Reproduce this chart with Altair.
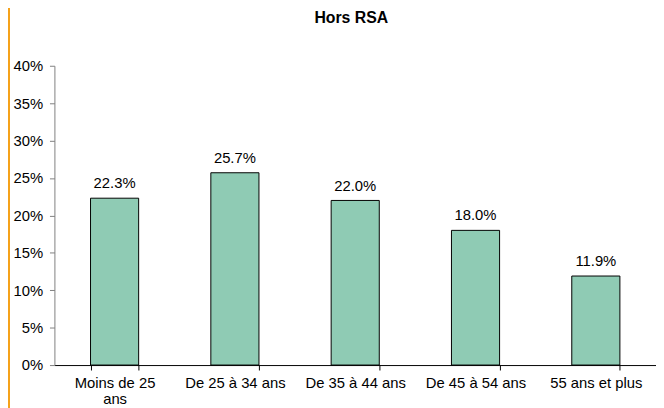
import altair as alt
import pandas as pd

categories = ["Moins de 25 ans", "De 25 à 34 ans", "De 35 à 44 ans", "De 45 à 54 ans", "55 ans et plus"]
values = [22.3, 25.7, 22.0, 18.0, 11.9]
title_text = "Hors RSA"
y_ticks = [0, 5, 10, 15, 20, 25, 30, 35, 40]
wrapped = {"Moins de 25 ans": ["Moins de 25", "ans"]}

df = pd.DataFrame({"cat": categories, "val": values})
df["lab"] = [f"{v:.1f}%" for v in values]

label_expr = "datum.label"
for k, parts in wrapped.items():
    arr = "[" + ",".join(f"'{p}'" for p in parts) + "]"
    label_expr = f"datum.label == '{k}' ? {arr} : " + label_expr

FONT = "Liberation Sans"
W, H = 609, 303

x_axis = alt.Axis(labelAngle=0, labelExpr=label_expr, labelFont=FONT, labelFontSize=15,
                  labelColor="#000", labelLineHeight=16, labelPadding=6, labelLimit=200,
                  tickBand="extent", tickSize=5, tickColor="#000", domainColor="#000",
                  labelBaseline="top")
y_axis = alt.Axis(values=y_ticks, labelExpr="datum.value + '%'",
                  grid=False, labelOverlap=False,
                  labelFont=FONT, labelFontSize=15, labelColor="#000", labelPadding=7,
                  tickSize=5, tickColor="#808080", domainColor="#808080")
x = alt.X("cat:N", sort=categories, title=None,
          scale=alt.Scale(paddingInner=0.6, paddingOuter=0.3), axis=x_axis)
y = alt.Y("val:Q", title=None, scale=alt.Scale(domain=[0, 40], nice=False), axis=y_axis)

bars = alt.Chart(df).mark_bar(color="#8FCBB4", stroke="#000", strokeWidth=1).encode(x=x, y=y)
texts = alt.Chart(df).mark_text(font=FONT, fontSize=15, color="#000", baseline="alphabetic", dy=-10).encode(
    x=x, y=y, text="lab:N")
edge = alt.Chart(df).mark_rule(color="#F5A21B", strokeWidth=2).encode(
    x=alt.value(-46), y=alt.value(-60), y2=alt.value(350))
title = alt.Chart(pd.DataFrame({"t": [title_text]})).mark_text(
    font=FONT, fontSize=16, fontWeight="bold", color="#000", baseline="alphabetic", align="center"
).encode(text="t:N", x=alt.value(W / 2 - 4), y=alt.value(-43))

chart = alt.layer(bars, texts, edge, title).properties(
    width=W, height=H,
    padding={"left": 47, "top": 56, "right": 0, "bottom": 41},
    autosize=alt.AutoSizeParams(type="none"),
).configure_view(stroke=None)

chart.save("out.html", embed_options={"renderer": "svg", "actions": False})
